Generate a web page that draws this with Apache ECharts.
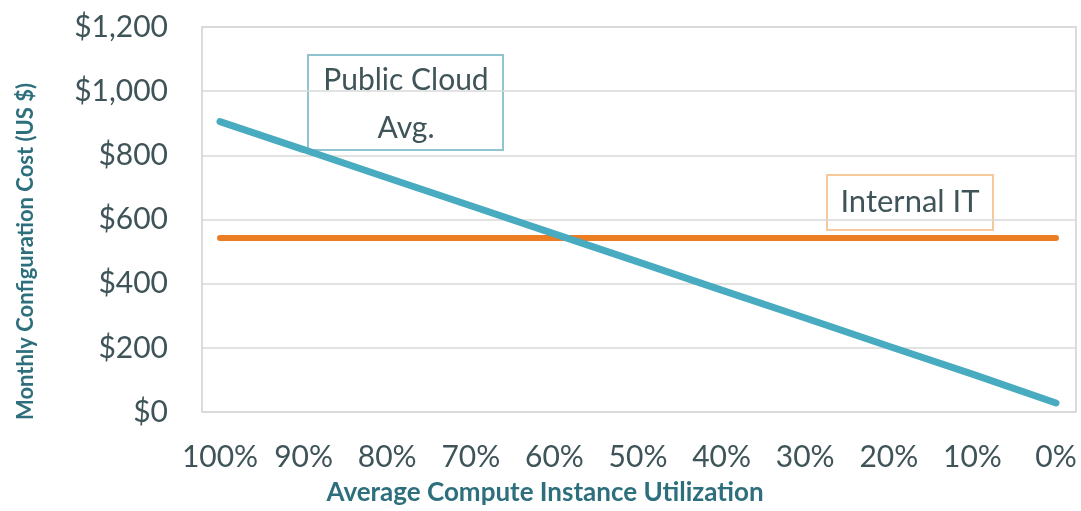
<!DOCTYPE html>
<html>
<head>
<meta charset="utf-8">
<script src="https://cdn.jsdelivr.net/npm/echarts@6/dist/echarts.min.js"></script>
<style>
  * { margin: 0; padding: 0; }
  html, body { width: 1081px; height: 511px; background: #fff; }
  #chart { width: 1081px; height: 511px; }
</style>
</head>
<body>
<div id="chart"></div>
<script>
// categories, read left to right
const utilization = ['100%', '90%', '80%', '70%', '60%', '50%', '40%', '30%', '20%', '10%', '0%']
// monthly cost, US $
const publicCloud = [905, 818, 730, 643, 555, 468, 380, 293, 205, 118, 28]
const internalIT = [542, 542, 542, 542, 542, 542, 542, 542, 542, 542, 542]
const yTicks = [0, 200, 400, 600, 800, 1000, 1200]

const textColor = '#3f5458'
const titleColor = '#2d6f7c'
const font = 'Lato, "Open Sans", sans-serif'

const chart = echarts.init(document.getElementById('chart'))
chart.setOption({
  animation: false,
  grid: [
    // frame + gridlines
    { left: 202, right: 5, top: 27, bottom: 99, show: true, borderColor: '#d0d0d0', borderWidth: 1.5, backgroundColor: 'transparent' },
    // series area (points sit a bit in from the frame)
    { left: 220, right: 25, top: 27, bottom: 99 }
  ],
  xAxis: [
    { gridIndex: 0, type: 'category', data: utilization, show: false },
    {
      gridIndex: 1,
      type: 'category',
      data: utilization,
      boundaryGap: false,
      axisLine: { show: false },
      axisTick: { show: false },
      axisLabel: { color: textColor, fontSize: 30, fontFamily: font, margin: 30, interval: 0 },
      name: 'Average Compute Instance Utilization',
      nameLocation: 'middle',
      nameGap: 68,
      nameTextStyle: { color: titleColor, fontSize: 26, fontWeight: 'bold', fontFamily: font, padding: [0, 186, 0, 0] }
    }
  ],
  yAxis: [
    {
      gridIndex: 0,
      type: 'value',
      min: yTicks[0],
      max: yTicks[yTicks.length - 1],
      interval: 200,
      axisLine: { show: false },
      axisTick: { show: false },
      splitLine: { lineStyle: { color: '#d9d9d9', width: 1.5 } },
      axisLabel: {
        color: textColor, fontSize: 30, fontFamily: font, margin: 34,
        formatter: v => '$' + v.toLocaleString('en-US')
      },
      name: 'Monthly Configuration Cost (US $)',
      nameLocation: 'middle',
      nameGap: 165,
      nameRotate: 90,
      nameTextStyle: { color: titleColor, fontSize: 22, fontWeight: 'bold', fontFamily: font, padding: [0, 64, 0, 0] }
    },
    { gridIndex: 1, type: 'value', min: 0, max: 1200, show: false }
  ],
  series: [
    {
      name: 'Internal IT',
      type: 'line',
      xAxisIndex: 1,
      yAxisIndex: 1,
      data: internalIT,
      symbol: 'none',
      lineStyle: { color: '#ec7d22', width: 6, cap: 'round' }
    },
    {
      name: 'Public Cloud Avg.',
      type: 'line',
      xAxisIndex: 1,
      yAxisIndex: 1,
      data: publicCloud,
      symbol: 'none',
      lineStyle: { color: '#48abc0', width: 7, cap: 'round' }
    }
  ],
  graphic: [
    {
      type: 'group',
      children: [
        { type: 'rect', shape: { x: 308, y: 55, width: 195, height: 95 }, style: { fill: '#fff', stroke: '#8fc4cf', lineWidth: 2 } },
        { type: 'text', x: 406, y: 104, style: { text: 'Public Cloud\nAvg.', fill: textColor, font: '30px ' + font, align: 'center', verticalAlign: 'middle', lineHeight: 48 } }
      ]
    },
    {
      type: 'group',
      children: [
        { type: 'rect', shape: { x: 827, y: 175, width: 166, height: 55 }, style: { fill: '#fff', stroke: '#f5c99c', lineWidth: 2 } },
        { type: 'text', x: 910, y: 202, style: { text: 'Internal IT', fill: textColor, font: '31px ' + font, align: 'center', verticalAlign: 'middle' } }
      ]
    }
  ]
})
</script>
</body>
</html>
